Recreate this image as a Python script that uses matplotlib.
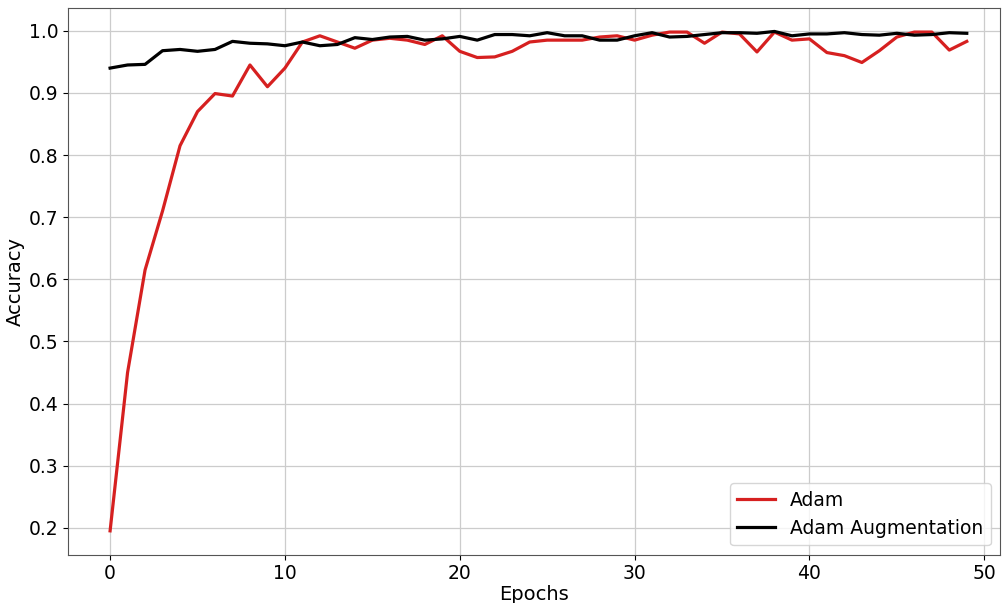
import numpy as np
import matplotlib
matplotlib.use("Agg")
import matplotlib.pyplot as plt

epochs = np.arange(50)

adam = [0.195, 0.45, 0.615, 0.71, 0.815, 0.87, 0.899, 0.895, 0.945, 0.91,
        0.94, 0.982, 0.992, 0.982, 0.972, 0.985, 0.988, 0.985, 0.978, 0.992,
        0.967, 0.957, 0.958, 0.967, 0.982, 0.985, 0.985, 0.985, 0.99, 0.992,
        0.985, 0.993, 0.998, 0.998, 0.980, 0.998, 0.995, 0.966, 0.998, 0.985,
        0.987, 0.965, 0.96, 0.949, 0.968, 0.99, 0.998, 0.998, 0.969, 0.983]

adam_aug = [0.94, 0.945, 0.946, 0.968, 0.97, 0.967, 0.97, 0.983, 0.98, 0.979,
            0.976, 0.982, 0.976, 0.978, 0.989, 0.986, 0.99, 0.991, 0.985, 0.987,
            0.991, 0.985, 0.994, 0.994, 0.992, 0.997, 0.992, 0.992, 0.985, 0.985,
            0.992, 0.997, 0.99, 0.991, 0.994, 0.997, 0.997, 0.996, 0.999, 0.992,
            0.995, 0.995, 0.997, 0.994, 0.993, 0.996, 0.993, 0.994, 0.997, 0.996]

fig = plt.figure(figsize=(10.02, 6.03), dpi=100)
ax = fig.add_axes([0.068, 0.08, 0.93, 0.907])

ax.plot(epochs, adam, color='#d62020', linewidth=2.3, label='Adam')
ax.plot(epochs, adam_aug, color='black', linewidth=2.3, label='Adam Augmentation')

ax.set_xlim(-2.4, 50.9)
ax.set_ylim(0.1565, 1.037)
ax.set_xticks([0, 10, 20, 30, 40, 50])
ax.set_yticks(np.arange(0.2, 1.01, 0.1))
ax.grid(True, color='#cccccc', linewidth=0.9)
ax.tick_params(labelsize=13.5)
ax.set_xlabel('Epochs', fontsize=14, labelpad=1)
ax.set_ylabel('Accuracy', fontsize=14, labelpad=3)
for s in ax.spines.values():
    s.set_color('#555555')
ax.legend(loc='lower right', fontsize=13.5)

fig.savefig('out.png', dpi=100)
